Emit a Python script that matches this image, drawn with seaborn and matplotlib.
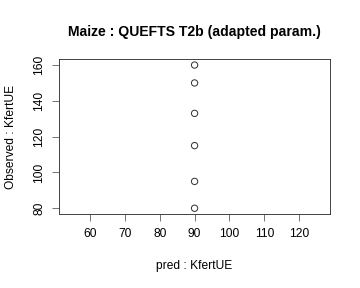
import matplotlib
matplotlib.use("Agg")
import matplotlib.pyplot as plt
import seaborn as sns
import pandas as pd

pred = [90, 90, 90, 90, 90, 90]
observed = [160, 150, 133, 115, 95, 80]
xticks = [60, 70, 80, 90, 100, 110, 120]
yticks = [80, 100, 120, 140, 160]

sns.set_style("white")
plt.rcParams['font.family'] = ['Liberation Sans', 'DejaVu Sans']
plt.rcParams['text.color'] = 'black'
plt.rcParams['axes.labelcolor'] = 'black'
plt.rcParams['xtick.color'] = 'black'
plt.rcParams['ytick.color'] = 'black'

df = pd.DataFrame({"pred": pred, "obs": observed})

fig = plt.figure(figsize=(5, 4), dpi=72)
ax = fig.add_axes([0.164, 0.257, 0.753, 0.537])
sns.scatterplot(data=df, x="pred", y="obs", ax=ax, marker="o", s=40,
                facecolors="none", edgecolor="#333333", linewidth=1.0)
ax.set_xlim(51.12, 128.88)
ax.set_ylim(76.8, 163.2)
ax.set_xticks(xticks)
ax.set_yticks(yticks)
ax.set_yticklabels([str(v) for v in yticks], rotation=90, va="center")
ax.tick_params(axis="both", direction="out", length=7, width=0.8,
               labelsize=12, colors="black", pad=7, left=True, bottom=True)
ax.tick_params(axis="both", color="#555555")
for s in ax.spines.values():
    s.set_color("#333333")
    s.set_linewidth(0.9)
ax.set_xlabel("pred : KfertUE", fontsize=12, labelpad=20)
ax.set_ylabel("Observed : KfertUE", fontsize=12, labelpad=16)
ax.set_title("Maize : QUEFTS T2b (adapted param.)", fontsize=14,
             fontweight="bold", pad=23)
fig.savefig("out.png", dpi=72)
